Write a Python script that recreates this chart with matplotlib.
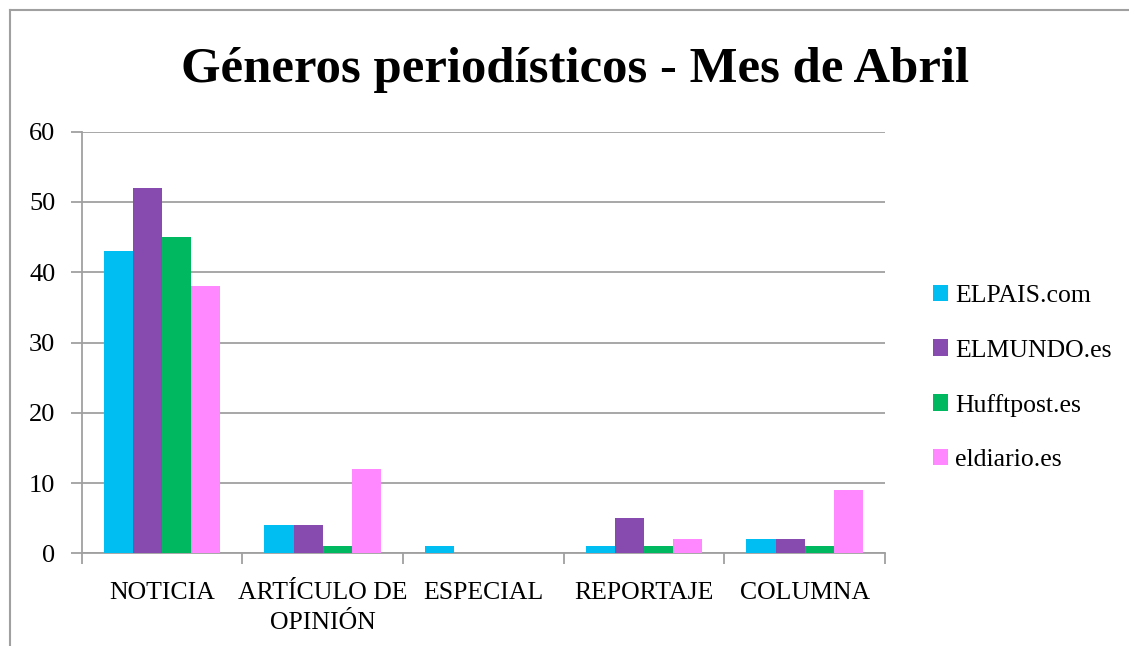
import matplotlib.pyplot as plt
import numpy as np
from matplotlib.lines import Line2D

categorias = ['NOTICIA', 'ARTÍCULO DE\nOPINIÓN', 'ESPECIAL', 'REPORTAJE', 'COLUMNA']
series = ['ELPAIS.com', 'ELMUNDO.es', 'Hufftpost.es', 'eldiario.es']
elpais = [43, 4, 1, 1, 2]
elmundo = [52, 4, 0, 5, 2]
huffpost = [45, 1, 0, 1, 1]
eldiario = [38, 12, 0, 2, 9]
colores = ['#00BEF2', '#874AAE', '#00B860', '#FF87FF']

plt.rcParams['font.family'] = ['Liberation Serif', 'DejaVu Serif']
gris = '#A0A0A0'

fig = plt.figure(figsize=(11.29, 6.46), dpi=100)
ax = fig.add_axes([0.0724, 0.1435, 0.7115, 0.6526])

x = np.arange(len(categorias))
w = 0.1815
for i, (vals, nombre) in enumerate(zip([elpais, elmundo, huffpost, eldiario], series)):
    ax.bar(x + (i - 1.5) * w, vals, w, color=colores[i], label=nombre, zorder=3)

ax.set_xlim(-0.5, len(categorias) - 0.5)
ax.set_ylim(0, 60)
ax.set_yticks(range(0, 61, 10))
ax.yaxis.grid(True, color=gris, linewidth=1.3, zorder=0)
ax.set_xticks(x)
ax.set_xticklabels(categorias, fontsize=18.5, linespacing=1.45)
ax.set_xticks(np.arange(-0.5, len(categorias), 1), minor=True)
ax.tick_params(axis='x', which='major', length=0, pad=21)
ax.tick_params(axis='x', which='minor', length=8, width=1.3, color=gris, direction='out')
ax.tick_params(axis='y', length=8, width=1.3, color=gris, labelsize=19, pad=11)
for s in ['top', 'right']:
    ax.spines[s].set_visible(False)
for s in ['left', 'bottom']:
    ax.spines[s].set_color(gris)
    ax.spines[s].set_linewidth(1.3)

fig.text(575.5 / 1129, 1 - 70 / 646, 'Géneros periodísticos - Mes de Abril', ha='center', va='center',
         fontsize=36.5, fontweight='bold')

fig.legend(loc='center left', bbox_to_anchor=(933 / 1129, 1 - 378 / 646), frameon=False,
           fontsize=18.5, handlelength=0.6, handleheight=0.6, handletextpad=0.25,
           labelspacing=1.25, borderpad=0, borderaxespad=0)

# marco del gráfico
fig.add_artist(Line2D([9.5 / 1129, 9.5 / 1129], [-0.05, 1 - 10 / 646], color=gris, linewidth=1.5))
fig.add_artist(Line2D([9.5 / 1129, 1.0], [1 - 10 / 646, 1 - 10 / 646], color=gris, linewidth=1.5))

fig.savefig('out.png', dpi=100)
